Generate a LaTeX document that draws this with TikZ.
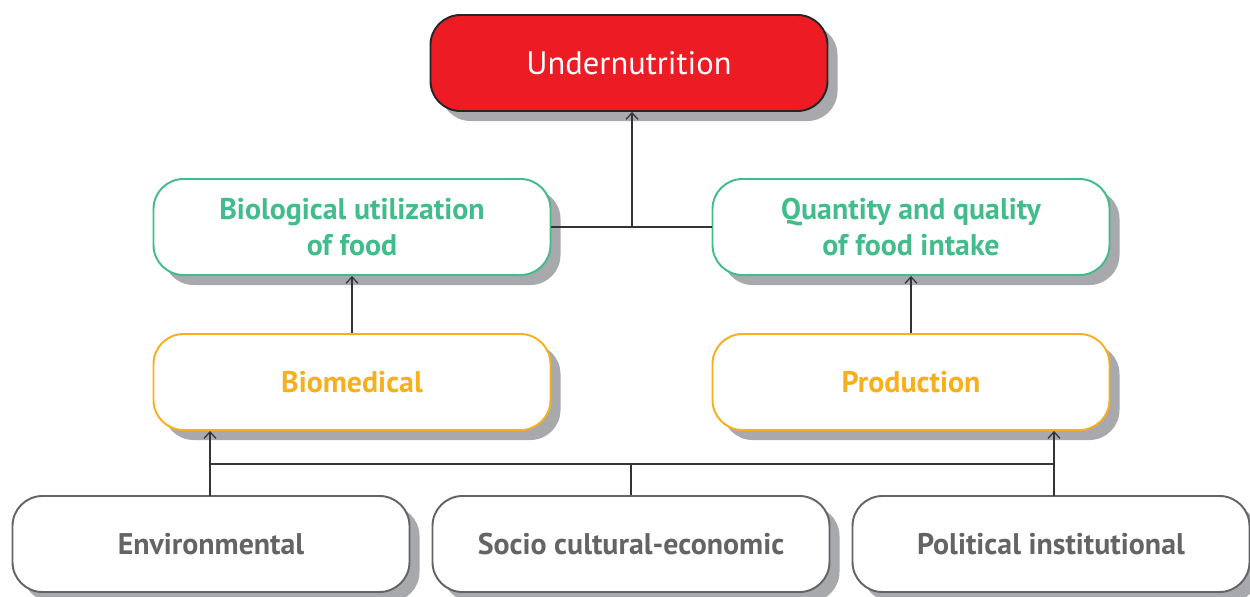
\documentclass[tikz,border=0pt]{standalone}
\usepackage{fontspec}
\setmainfont{PT Sans}
\usetikzlibrary{shadows,arrows.meta}

\definecolor{undred}{RGB}{237,28,36}
\definecolor{usegreen}{RGB}{64,189,138}
\definecolor{causeorange}{RGB}{246,176,30}
\definecolor{rootgray}{RGB}{99,100,102}
\definecolor{shadowgray}{RGB}{167,169,172}
\definecolor{linegray}{RGB}{51,51,51}

\tikzset{
    box/.style={rectangle, rounded corners=0.6cm, line width=1.1pt, fill=white,
        minimum width=7.94cm, minimum height=1.92cm, align=center,
        font=\fontsize{17}{20.5}\selectfont\bfseries,
        drop shadow={shadow xshift=0.2cm, shadow yshift=-0.2cm, fill=shadowgray, opacity=1}},
    topbox/.style={box, draw=black!85, fill=undred, text=white,
        font=\fontsize{18.5}{22}\selectfont},
    usebox/.style={box, draw=usegreen, text=usegreen},
    causebox/.style={box, draw=causeorange, text=causeorange},
    rootbox/.style={box, draw=rootgray, text=rootgray},
    link/.style={draw=linegray, line width=0.7pt},
    uparrow/.style={link, -{Straight Barb[length=1.3mm,width=2.4mm]}}
}

\begin{document}
\begin{tikzpicture}
    \useasboundingbox (0,0) rectangle (25,-11.92);

    % Nodes
    \node[topbox] (U) at (12.58,-1.26) {Undernutrition};
    \node[usebox] (BU) at (7.04,-4.54) {Biological utilization\\of food};
    \node[usebox] (Q) at (18.22,-4.54) {Quantity and quality\\of food intake};
    \node[causebox] (BM) at (7.04,-7.64) {Biomedical};
    \node[causebox] (P) at (18.22,-7.64) {Production};
    \node[rootbox] (E) at (4.22,-10.88) {Environmental};
    \node[rootbox] (S) at (12.62,-10.88) {Socio cultural-economic};
    \node[rootbox] (PI) at (21.02,-10.88) {Political institutional};

    \coordinate (J) at (12.64,-4.54);
    \coordinate (K) at (12.62,-9.28);
    \coordinate (EU) at (4.2,-9.92);
    \coordinate (PU) at (21.08,-9.92);

    % Arrows
    \draw[link] (BU.east) -- (Q.west);
    \draw[uparrow] (J) -- (J |- U.south);
    \draw[uparrow] (BM.north) -- (BU.south);
    \draw[uparrow] (P.north) -- (Q.south);
    \draw[link] (EU |- K) -- (PU |- K);
    \draw[link] (S.north) -- (K);
    \draw[uparrow] (EU) -- (EU |- BM.south);
    \draw[uparrow] (PU) -- (PU |- P.south);

\end{tikzpicture}
\end{document}
